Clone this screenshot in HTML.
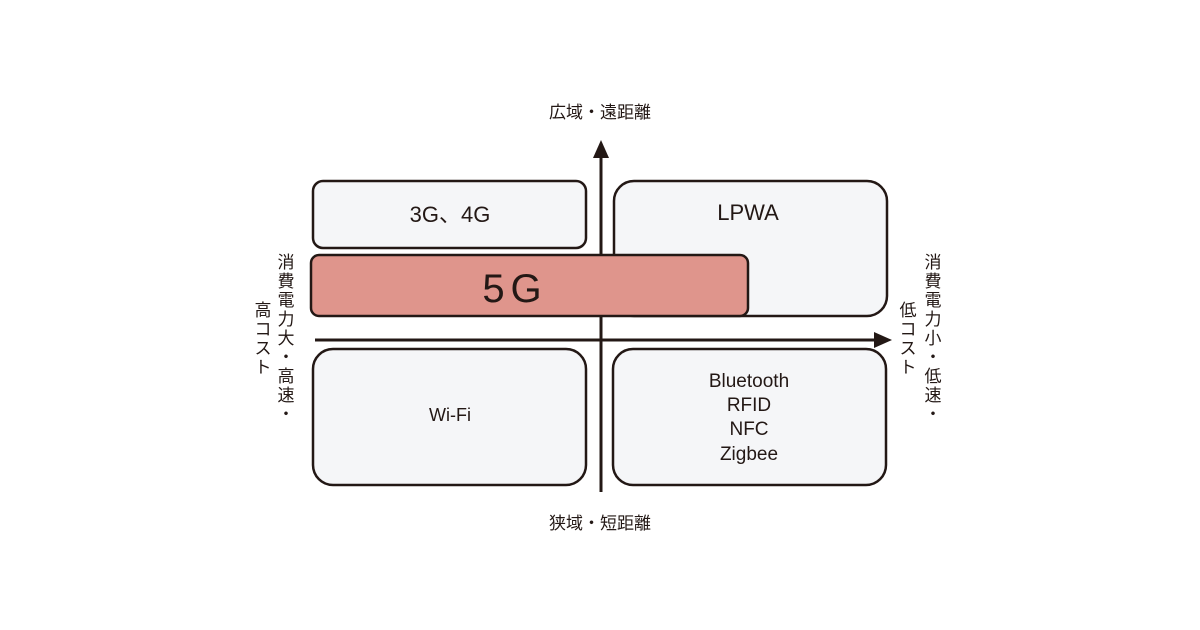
<!DOCTYPE html>
<html><head><meta charset="utf-8"><style>
html,body{margin:0;padding:0;background:#fff;}
svg{display:block;}
text{font-family:"Liberation Sans","Noto Sans CJK JP",sans-serif;fill:#231815;}
</style></head><body>
<svg width="1200" height="630" viewBox="0 0 1200 630" xmlns="http://www.w3.org/2000/svg">
<g stroke="#231815" stroke-width="2.5" fill="#f5f6f8">
<rect x="313" y="181" width="273" height="67" rx="10"/>
<rect x="614" y="181" width="273" height="135" rx="20"/>
<rect x="313" y="349" width="273" height="136" rx="20"/>
<rect x="613" y="349" width="273" height="136" rx="20"/>
</g>
<line x1="601" y1="155" x2="601" y2="492" stroke="#231815" stroke-width="3"/>
<polygon points="601,140 593,158 609,158" fill="#231815"/>
<line x1="315" y1="340" x2="878" y2="340" stroke="#231815" stroke-width="3"/>
<polygon points="892,340 874,332 874,348" fill="#231815"/>
<rect x="311" y="255" width="437" height="61" rx="8" fill="#df958c" stroke="#231815" stroke-width="2.5"/>
<text x="515" y="302" font-size="40" text-anchor="middle" letter-spacing="6">5G</text>
<text x="450" y="222" font-size="22" text-anchor="middle">3G、4G</text>
<text x="748" y="220" font-size="22" text-anchor="middle">LPWA</text>
<text x="450" y="421" font-size="18" text-anchor="middle">Wi-Fi</text>
<g font-size="19" text-anchor="middle">
<text x="749" y="387">Bluetooth</text>
<text x="749" y="411">RFID</text>
<text x="749" y="435">NFC</text>
<text x="749" y="460">Zigbee</text>
</g>
<text x="600" y="118" font-size="17" text-anchor="middle">広域・遠距離</text>
<text x="600" y="529" font-size="17" text-anchor="middle">狭域・短距離</text>
<g font-size="17" text-anchor="middle">
<text x="286" y="268">消</text><text x="286" y="287">費</text><text x="286" y="306">電</text><text x="286" y="325">力</text><text x="286" y="344">大</text><text x="286" y="363">・</text><text x="286" y="382">高</text><text x="286" y="401">速</text><text x="286" y="420">・</text>
<text x="263" y="316">高</text><text x="263" y="335">コ</text><text x="263" y="354">ス</text><text x="263" y="373">ト</text>
<text x="933" y="268">消</text><text x="933" y="287">費</text><text x="933" y="306">電</text><text x="933" y="325">力</text><text x="933" y="344">小</text><text x="933" y="363">・</text><text x="933" y="382">低</text><text x="933" y="401">速</text><text x="933" y="420">・</text>
<text x="908" y="316">低</text><text x="908" y="335">コ</text><text x="908" y="354">ス</text><text x="908" y="373">ト</text>
</g>
</svg>
</body></html>
